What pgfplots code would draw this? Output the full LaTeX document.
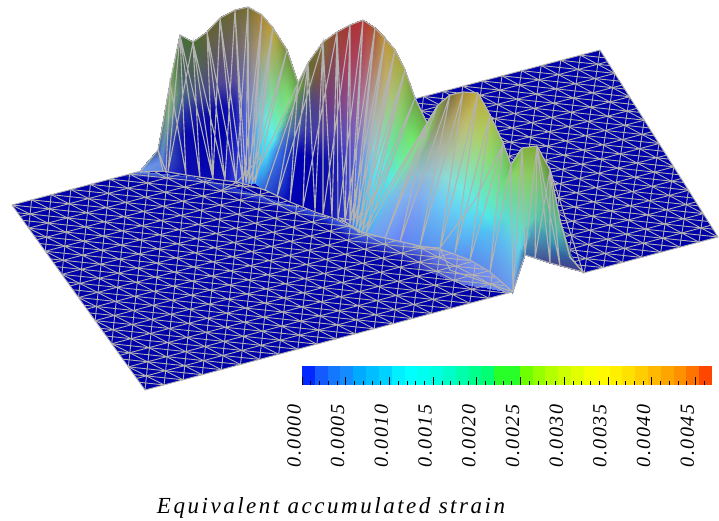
\documentclass[border=0pt]{standalone}
\usepackage{fontspec}
\setmainfont{Liberation Serif}
\usepackage{pgfplots}
\usepackage{pgfplotstable}
\pgfplotsset{compat=1.18}
\definecolor{meshgray}{RGB}{178,178,178}
\definecolor{plateblue}{RGB}{0,0,170}
% columns of the raised ridge: base point, top point, height fraction, colour
\pgfplotstableread{
xb yb xt yt t r g b
140 172 141 170 0 110 150 230
140 172 141 170 .3 110 150 230
140 172 141 170 .45 110 150 230
140 172 141 170 .6 110 150 230
140 172 141 170 .8 110 150 230
140 172 141 170 1 110 150 230
163 171 158 150 0 90 130 225
163 171 158 150 .3 100 140 230
163 171 158 150 .45 100 140 230
163 171 158 150 .6 90 130 220
163 171 158 150 .8 70 110 190
163 171 158 150 1 60 90 150
166 172 170 83 0 50 60 200
166 172 170 83 .3 60 90 180
166 172 170 83 .45 90 130 150
166 172 170 83 .6 120 170 140
166 172 170 83 .8 140 190 110
166 172 170 83 1 120 170 90
186 175 180 35 0 10 10 180
186 175 180 35 .3 10 10 170
186 175 180 35 .45 40 50 165
186 175 180 35 .6 80 110 130
186 175 180 35 .8 70 100 80
186 175 180 35 1 70 110 60
200 178 193 42 0 10 10 175
200 178 193 42 .3 0 0 170
200 178 193 42 .45 20 20 165
200 178 193 42 .6 70 80 140
200 178 193 42 .8 80 100 90
200 178 193 42 1 70 110 50
213 179 207 32 0 10 10 180
213 179 207 32 .3 0 0 170
213 179 207 32 .45 10 10 165
213 179 207 32 .6 70 70 140
213 179 207 32 .8 90 90 90
213 179 207 32 1 100 100 50
225 180 220 18 0 20 20 190
225 180 220 18 .3 0 0 170
225 180 220 18 .45 10 10 170
225 180 220 18 .6 80 70 150
225 180 220 18 .8 100 90 100
225 180 220 18 1 100 100 50
236 182 235 10 0 50 60 220
236 182 235 10 .3 20 20 190
236 182 235 10 .45 30 30 175
236 182 235 10 .6 90 80 150
236 182 235 10 .8 110 100 100
236 182 235 10 1 110 100 50
243 183 248 7 0 60 90 240
243 183 248 7 .3 70 90 225
243 183 248 7 .45 90 100 200
243 183 248 7 .6 110 110 170
243 183 248 7 .8 130 120 110
243 183 248 7 1 120 110 50
246 183 262 15 0 50 80 220
246 183 262 15 .3 90 120 230
246 183 262 15 .45 130 150 200
246 183 262 15 .6 150 150 170
246 183 262 15 .8 170 150 110
246 183 262 15 1 170 130 50
249 183 273 28 0 60 120 240
249 183 273 28 .3 90 170 240
249 183 273 28 .45 120 200 220
249 183 273 28 .6 130 190 190
249 183 273 28 .8 170 180 120
249 183 273 28 1 190 160 60
252 183 287 50 0 50 140 250
252 183 287 50 .3 70 220 245
252 183 287 50 .45 100 240 225
252 183 287 50 .6 120 225 160
252 183 287 50 .8 130 190 110
252 183 287 50 1 120 140 60
255 183 298 83 0 50 150 250
255 183 298 83 .3 70 220 245
255 183 298 83 .45 90 240 235
255 183 298 83 .6 110 240 170
255 183 298 83 .8 120 230 120
255 183 298 83 1 100 160 70
265 190 308 63 0 50 90 210
265 190 308 63 .3 60 120 230
265 190 308 63 .45 80 130 190
265 190 308 63 .6 90 140 130
265 190 308 63 .8 100 150 70
265 190 308 63 1 100 110 50
290 202 323 42 0 0 0 180
290 202 323 42 .3 0 0 180
290 202 323 42 .45 60 60 170
290 202 323 42 .6 70 70 140
290 202 323 42 .8 120 90 60
290 202 323 42 1 130 110 50
315 212 337 32 0 0 0 170
315 212 337 32 .3 10 10 170
315 212 337 32 .45 80 60 160
315 212 337 32 .6 110 60 130
315 212 337 32 .8 130 70 90
315 212 337 32 1 150 70 50
332 218 350 25 0 20 20 180
332 218 350 25 .3 30 30 180
332 218 350 25 .45 90 70 180
332 218 350 25 .6 130 70 140
332 218 350 25 .8 170 60 90
332 218 350 25 1 170 50 50
345 222 363 20 0 50 60 210
345 222 363 20 .3 70 70 210
345 222 363 20 .45 120 90 190
345 222 363 20 .6 150 90 150
345 222 363 20 .8 170 70 100
345 222 363 20 1 180 50 50
350 224 375 28 0 70 90 230
350 224 375 28 .3 90 110 230
350 224 375 28 .45 130 120 200
350 224 375 28 .6 170 130 170
350 224 375 28 .8 180 110 110
350 224 375 28 1 170 90 50
353 226 385 38 0 60 130 250
353 226 385 38 .3 100 150 240
353 226 385 38 .45 140 170 210
353 226 385 38 .6 170 170 170
353 226 385 38 .8 180 150 110
353 226 385 38 1 190 150 60
356 228 395 50 0 50 150 250
356 228 395 50 .3 90 190 245
356 228 395 50 .45 130 210 220
356 228 395 50 .6 170 190 170
356 228 395 50 .8 190 180 120
356 228 395 50 1 180 160 60
359 230 405 70 0 60 170 250
359 230 405 70 .3 90 220 245
359 230 405 70 .45 110 230 220
359 230 405 70 .6 130 220 170
359 230 405 70 .8 160 200 120
359 230 405 70 1 160 170 70
362 232 415 98 0 70 170 250
362 232 415 98 .3 80 220 245
362 232 415 98 .45 90 230 220
362 232 415 98 .6 100 230 160
362 232 415 98 .8 120 210 110
362 232 415 98 1 110 160 70
366 233 427 123 0 70 170 245
366 233 427 123 .3 80 210 245
366 233 427 123 .45 90 235 230
366 233 427 123 .6 110 240 170
366 233 427 123 .8 110 240 110
366 233 427 123 1 110 170 70
372 235 438 105 0 110 160 240
372 235 438 105 .3 120 190 230
372 235 438 105 .45 130 210 190
372 235 438 105 .6 130 220 150
372 235 438 105 .8 130 230 100
372 235 438 105 1 130 170 70
385 238 450 95 0 110 150 245
385 238 450 95 .3 130 180 240
385 238 450 95 .45 140 190 210
385 238 450 95 .6 140 180 160
385 238 450 95 .8 140 150 100
385 238 450 95 1 120 110 60
400 242 463 92 0 100 130 245
400 242 463 92 .3 130 170 240
400 242 463 92 .45 150 190 210
400 242 463 92 .6 170 180 170
400 242 463 92 .8 170 160 110
400 242 463 92 1 170 140 50
420 246 478 93 0 90 140 240
420 246 478 93 .3 110 200 245
420 246 478 93 .45 140 220 215
420 246 478 93 .6 170 200 160
420 246 478 93 .8 190 190 110
420 246 478 93 1 190 170 60
440 249 490 115 0 90 150 240
440 249 490 115 .3 100 210 245
440 249 490 115 .45 110 235 225
440 249 490 115 .6 140 225 170
440 249 490 115 .8 170 210 110
440 249 490 115 1 180 190 70
455 253 503 143 0 90 150 240
455 253 503 143 .3 90 210 245
455 253 503 143 .45 90 235 230
455 253 503 143 .6 110 230 180
455 253 503 143 .8 130 220 120
455 253 503 143 1 130 190 90
470 260 511 165 0 90 140 240
470 260 511 165 .3 80 190 245
470 260 511 165 .45 80 230 230
470 260 511 165 .6 100 230 190
470 260 511 165 .8 110 220 130
470 260 511 165 1 110 190 80
490 272 522 148 0 100 140 235
490 272 522 148 .3 90 190 240
490 272 522 148 .45 90 220 210
490 272 522 148 .6 110 215 160
490 272 522 148 .8 140 210 100
490 272 522 148 1 130 180 60
513 292 537 146 0 110 150 235
513 292 537 146 .3 100 210 230
513 292 537 146 .45 100 220 190
513 292 537 146 .6 120 210 150
513 292 537 146 .8 140 200 100
513 292 537 146 1 130 170 50
525 255 550 170 0 60 110 170
525 255 550 170 .3 80 170 190
525 255 550 170 .45 90 200 170
525 255 550 170 .6 100 200 150
525 255 550 170 .8 110 190 110
525 255 550 170 1 100 140 60
550 263 560 220 0 70 70 140
550 263 560 220 .3 50 110 170
550 263 560 220 .45 50 150 180
550 263 560 220 .6 60 170 180
550 263 560 220 .8 90 190 170
550 263 560 220 1 100 190 130
583 272 570 257 0 60 60 140
583 272 570 257 .3 60 60 140
583 272 570 257 .45 60 70 140
583 272 570 257 .6 60 80 145
583 272 570 257 .8 60 90 150
583 272 570 257 1 60 110 150
}\hump
% light rim of the ridge on the front of the plate
\pgfplotstableread{
x y r g b
140 172 110 150 230
120 177 0 0 170
200 178 40 60 200
200 185 0 0 170
332 218 60 90 230
325 225 0 0 170
362 232 80 120 240
350 245 0 0 170
420 246 110 140 240
400 262 0 0 170
440 249 120 150 245
430 272 60 70 200
470 260 120 150 245
462 284 90 110 225
490 272 120 150 245
488 288 100 130 235
513 292 110 150 235
513 293 100 130 235
}\rim
% one straight mesh line of the plate, in plate coordinates (u,v)
\newcommand\pl[4]{\addplot[meshgray,line width=0.9pt,forget plot] table[
  x expr={12+9.8*\thisrow{u}+8.3125*\thisrow{v}-0.015625*\thisrow{u}*\thisrow{v}},
  y expr={205-2.5833*\thisrow{u}+11.5625*\thisrow{v}+0.00208*\thisrow{u}*\thisrow{v}},
  row sep=\\]{u v\\ #1 #2\\ #3 #4\\};}
\newcommand\seg[3]{\addplot[draw=none,fill={rgb,255:#3},forget plot] coordinates {(#1,0) (#2,0) (#2,1) (#1,1)} -- cycle;}
\begin{document}
\begin{tikzpicture}
\path[use as bounding box] (0,0) rectangle (719pt,520pt);
\begin{axis}[at={(0,0)},anchor=south west,scale only axis,width=719pt,height=520pt,
  xmin=0,xmax=719,ymin=0,ymax=520,y dir=reverse,hide axis,clip=true]
\addplot[fill=plateblue,draw=none,forget plot] coordinates {(12,205) (600,50) (718,237) (145,390)} -- cycle;
\addplot[surf,shader=interp,mesh/rows=9,mesh/cols=2,
  mesh/color input=explicit mathparse,
  point meta={symbolic={\thisrow{r}/255,\thisrow{g}/255,\thisrow{b}/255}}] table[x=x,y=y] {\rim};
% along the long side
\pl{0}{0}{60}{0}\pl{0}{1}{60}{1}\pl{0}{2}{60}{2}\pl{0}{3}{60}{3}\pl{0}{4}{60}{4}\pl{0}{5}{60}{5}
\pl{0}{6}{60}{6}\pl{0}{7}{60}{7}\pl{0}{8}{60}{8}\pl{0}{9}{60}{9}\pl{0}{10}{60}{10}\pl{0}{11}{60}{11}
\pl{0}{12}{60}{12}\pl{0}{13}{60}{13}\pl{0}{14}{60}{14}\pl{0}{15}{60}{15}\pl{0}{16}{60}{16}
% u-v = const
\pl{0}{14}{2}{16}\pl{0}{12}{4}{16}\pl{0}{10}{6}{16}\pl{0}{8}{8}{16}\pl{0}{6}{10}{16}
\pl{0}{4}{12}{16}\pl{0}{2}{14}{16}\pl{0}{0}{16}{16}\pl{2}{0}{18}{16}\pl{4}{0}{20}{16}\pl{6}{0}{22}{16}
\pl{8}{0}{24}{16}\pl{10}{0}{26}{16}\pl{12}{0}{28}{16}\pl{14}{0}{30}{16}\pl{16}{0}{32}{16}\pl{18}{0}{34}{16}
\pl{20}{0}{36}{16}\pl{22}{0}{38}{16}\pl{24}{0}{40}{16}\pl{26}{0}{42}{16}\pl{28}{0}{44}{16}\pl{30}{0}{46}{16}
\pl{32}{0}{48}{16}\pl{34}{0}{50}{16}\pl{36}{0}{52}{16}\pl{38}{0}{54}{16}\pl{40}{0}{56}{16}\pl{42}{0}{58}{16}
\pl{44}{0}{60}{16}\pl{46}{0}{60}{14}\pl{48}{0}{60}{12}\pl{50}{0}{60}{10}\pl{52}{0}{60}{8}\pl{54}{0}{60}{6}
\pl{56}{0}{60}{4}\pl{58}{0}{60}{2}
% u+v = const
\pl{2}{0}{0}{2}\pl{4}{0}{0}{4}\pl{6}{0}{0}{6}\pl{8}{0}{0}{8}\pl{10}{0}{0}{10}\pl{12}{0}{0}{12}\pl{14}{0}{0}{14}
\pl{16}{0}{0}{16}\pl{18}{0}{2}{16}\pl{20}{0}{4}{16}\pl{22}{0}{6}{16}\pl{24}{0}{8}{16}\pl{26}{0}{10}{16}
\pl{28}{0}{12}{16}\pl{30}{0}{14}{16}\pl{32}{0}{16}{16}\pl{34}{0}{18}{16}\pl{36}{0}{20}{16}\pl{38}{0}{22}{16}
\pl{40}{0}{24}{16}\pl{42}{0}{26}{16}\pl{44}{0}{28}{16}\pl{46}{0}{30}{16}\pl{48}{0}{32}{16}\pl{50}{0}{34}{16}
\pl{52}{0}{36}{16}\pl{54}{0}{38}{16}\pl{56}{0}{40}{16}\pl{58}{0}{42}{16}\pl{60}{0}{44}{16}\pl{60}{2}{46}{16}
\pl{60}{4}{48}{16}\pl{60}{6}{50}{16}\pl{60}{8}{52}{16}\pl{60}{10}{54}{16}\pl{60}{12}{56}{16}\pl{60}{14}{58}{16}
% shallow family u-3v = const
\pl{0}{15.333}{2}{16}\pl{0}{14.667}{4}{16}\pl{0}{14}{6}{16}\pl{0}{13.333}{8}{16}\pl{0}{12.667}{10}{16}
\pl{0}{12}{12}{16}\pl{0}{11.333}{14}{16}\pl{0}{10.667}{16}{16}\pl{0}{10}{18}{16}\pl{0}{9.333}{20}{16}
\pl{0}{8.667}{22}{16}\pl{0}{8}{24}{16}\pl{0}{7.333}{26}{16}\pl{0}{6.667}{28}{16}\pl{0}{6}{30}{16}
\pl{0}{5.333}{32}{16}\pl{0}{4.667}{34}{16}\pl{0}{4}{36}{16}\pl{0}{3.333}{38}{16}\pl{0}{2.667}{40}{16}
\pl{0}{2}{42}{16}\pl{0}{1.333}{44}{16}\pl{0}{.667}{46}{16}\pl{0}{0}{48}{16}\pl{2}{0}{50}{16}\pl{4}{0}{52}{16}
\pl{6}{0}{54}{16}\pl{8}{0}{56}{16}\pl{10}{0}{58}{16}\pl{12}{0}{60}{16}\pl{14}{0}{60}{15.333}\pl{16}{0}{60}{14.667}
\pl{18}{0}{60}{14}\pl{20}{0}{60}{13.333}\pl{22}{0}{60}{12.667}\pl{24}{0}{60}{12}\pl{26}{0}{60}{11.333}
\pl{28}{0}{60}{10.667}\pl{30}{0}{60}{10}\pl{32}{0}{60}{9.333}\pl{34}{0}{60}{8.667}\pl{36}{0}{60}{8}
\pl{38}{0}{60}{7.333}\pl{40}{0}{60}{6.667}\pl{42}{0}{60}{6}\pl{44}{0}{60}{5.333}\pl{46}{0}{60}{4.667}
\pl{48}{0}{60}{4}\pl{50}{0}{60}{3.333}\pl{52}{0}{60}{2.667}\pl{54}{0}{60}{2}\pl{56}{0}{60}{1.333}\pl{58}{0}{60}{.667}
% short sides
\pl{0}{0}{0}{16}\pl{60}{0}{60}{16}
% notch under the ridge at the plate's front edge
\addplot[fill=white,draw=none,forget plot] coordinates {(513,293) (525,255) (583,272) (584,275) (513,296)} -- cycle;
% ridge
\addplot[surf,shader=interp,mesh/rows=36,mesh/cols=6,
  mesh/color input=explicit mathparse,
  point meta={symbolic={\thisrow{r}/255,\thisrow{g}/255,\thisrow{b}/255}}]
  table[x expr={\thisrow{xb}+\thisrow{t}*(\thisrow{xt}-\thisrow{xb})},
        y expr={\thisrow{yb}+\thisrow{t}*(\thisrow{yt}-\thisrow{yb})}] {\hump};
% mesh lines on the ridge
\addplot[meshgray,line width=1.1pt,forget plot] coordinates {
(163,171)(158,150)(166,172)(170,83)(186,175)(180,35)(168,172)(193,42)(200,178)(180,35)(213,179)(193,42)
(225,180)(207,32)(213,179)(220,18)(236,182)(207,32)(225,180)(235,10)(243,183)(220,18)(236,182)(248,7)
(246,183)(235,10)(243,183)(262,15)(249,183)(248,7)(246,183)(273,28)(252,183)(262,15)(249,183)(287,50)
(255,183)(273,28)(252,183)(298,83)};
\addplot[meshgray,line width=1.1pt,forget plot] coordinates {
(265,190)(308,63)(290,202)(298,83)(277,197)(323,42)(315,212)(308,63)(303,207)(337,32)(332,218)(323,42)
(323,215)(350,25)(345,222)(337,32)(338,220)(363,20)(350,224)(350,25)(345,222)(375,28)(353,226)(363,20)
(350,224)(385,38)(356,228)(375,28)(353,226)(395,50)(359,230)(385,38)(356,228)(405,70)(362,232)(395,50)
(359,230)(415,98)(366,233)(405,70)(362,232)(427,123)};
\addplot[meshgray,line width=1.1pt,forget plot] coordinates {
(366,233)(438,105)(385,238)(427,123)(400,242)(450,95)(420,246)(463,92)(440,249)(478,93)(455,253)(490,115)
(470,260)(503,143)(490,272)(511,165)(513,292)(522,148)(525,255)(537,146)(535,258)(550,170)(550,263)(537,146)
(560,266)(550,170)(583,272)(570,257)(560,220)};
% outline of the ridge
\addplot[meshgray,line width=1.2pt,forget plot] coordinates {
(140,172)(158,150)(163,123)(170,83)(180,35)(193,42)(207,32)(220,18)(235,10)(248,7)(262,15)(273,28)(287,50)(298,83)
(308,63)(323,42)(337,32)(350,25)(363,20)(375,28)(385,38)(395,50)(405,70)(415,98)(427,123)
(438,105)(450,95)(463,92)(478,93)(490,115)(503,143)(511,165)(522,148)(537,146)(550,170)(560,220)(570,257)(583,272)};
\addplot[meshgray,line width=1.1pt,forget plot] coordinates {
(140,172)(163,171)(186,175)(213,179)(237,182)(265,190)(290,202)(315,212)(345,222)(362,232)(385,238)(420,246)(440,249)(470,260)(490,272)(513,292)(525,255)(550,263)(583,272)};
% fans on the plate beside the ridge
\addplot[meshgray,line width=1pt,forget plot] coordinates {(218,192)(237,182)(263,155)};
\addplot[meshgray,line width=1pt,forget plot] coordinates {(360,233)(340,218)(350,220)(367,213)(392,160)};
\addplot[meshgray,line width=1pt,forget plot] coordinates {(413,246)(440,248)(475,200)(500,150)};
\addplot[meshgray,line width=1pt,forget plot] coordinates {(440,248)(450,270)(513,292)};
\node[font=\fontsize{23}{23}\selectfont\itshape\addfontfeature{LetterSpace=11}] at (axis cs:331,507.5) {Equivalent accumulated strain};
\end{axis}
\begin{axis}[at={(302pt,135pt)},anchor=south west,scale only axis,width=410pt,height=19.5pt,
  xmin=0,xmax=0.00469,ymin=0,ymax=1,axis on top,axis line style={draw=none},
  ytick=\empty,xtick pos=bottom,tick align=inside,scaled x ticks=false,
  xtick={0,0.0005,0.001,0.0015,0.002,0.0025,0.003,0.0035,0.004,0.0045},
  xticklabels={0.0000,0.0005,0.0010,0.0015,0.0020,0.0025,0.0030,0.0035,0.0040,0.0045},
  minor xtick={0.0001,0.0002,0.0003,0.0004,0.0006,0.0007,0.0008,0.0009,0.0011,0.0012,0.0013,0.0014,0.0016,0.0017,0.0018,0.0019,0.0021,0.0022,0.0023,0.0024,0.0026,0.0027,0.0028,0.0029,0.0031,0.0032,0.0033,0.0034,0.0036,0.0037,0.0038,0.0039,0.0041,0.0042,0.0043,0.0044,0.0046},
  tick style={black,line width=0.7pt},major tick length=8pt,minor tick length=4pt,
  x tick label style={rotate=90,anchor=east,xshift=-16pt,yshift=8pt,
    font=\fontsize{20}{20}\selectfont\itshape\addfontfeature{LetterSpace=8}}]
\seg{0}{.0001466}{red,0;green,40;blue,255}
\seg{.0001466}{.0002931}{red,20;green,90;blue,255}
\seg{.0002931}{.0004397}{red,20;green,120;blue,255}
\seg{.0004397}{.0005862}{red,20;green,140;blue,255}
\seg{.0005862}{.0007328}{red,0;green,170;blue,255}
\seg{.0007328}{.0008794}{red,0;green,190;blue,255}
\seg{.0008794}{.0010259}{red,0;green,210;blue,255}
\seg{.0010259}{.0011725}{red,0;green,240;blue,255}
\seg{.0011725}{.0013191}{red,0;green,255;blue,255}
\seg{.0013191}{.0014656}{red,0;green,255;blue,240}
\seg{.0014656}{.0016122}{red,0;green,255;blue,225}
\seg{.0016122}{.0017587}{red,0;green,255;blue,200}
\seg{.0017587}{.0019053}{red,0;green,255;blue,170}
\seg{.0019053}{.0020519}{red,0;green,255;blue,140}
\seg{.0020519}{.0021984}{red,0;green,255;blue,115}
\seg{.0021984}{.0023450}{red,40;green,255;blue,40}
\seg{.0023450}{.0024916}{red,40;green,255;blue,40}
\seg{.0024916}{.0026381}{red,110;green,255;blue,0}
\seg{.0026381}{.0027847}{red,150;green,255;blue,0}
\seg{.0027847}{.0029312}{red,180;green,255;blue,0}
\seg{.0029312}{.0030778}{red,205;green,255;blue,0}
\seg{.0030778}{.0032244}{red,225;green,255;blue,0}
\seg{.0032244}{.0033709}{red,245;green,255;blue,0}
\seg{.0033709}{.0035175}{red,255;green,250;blue,0}
\seg{.0035175}{.0036641}{red,255;green,240;blue,0}
\seg{.0036641}{.0038106}{red,255;green,225;blue,0}
\seg{.0038106}{.0039572}{red,255;green,205;blue,0}
\seg{.0039572}{.0041037}{red,255;green,185;blue,0}
\seg{.0041037}{.0042503}{red,255;green,165;blue,0}
\seg{.0042503}{.0043969}{red,255;green,145;blue,0}
\seg{.0043969}{.0045434}{red,255;green,115;blue,0}
\seg{.0045434}{.00469}{red,255;green,70;blue,0}
\end{axis}
\end{tikzpicture}
\end{document}
